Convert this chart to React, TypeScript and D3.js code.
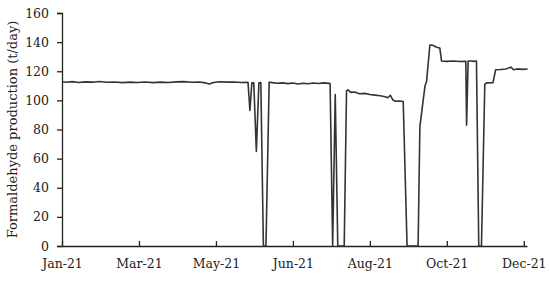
import { useRef, useEffect } from 'react';
import * as d3 from 'd3';

// day of year 2021 (0 = 1 Jan) and production in t/day
const days = [
  0, 4, 8, 13, 18, 24, 29, 35, 41, 47, 53, 59, 65, 71, 77, 83, 89, 95, 101, 107, 112, 115, 118, 123, 129, 134, 140, 145,
  146.5, 148, 149.5, 151.5, 153.5, 155, 157, 159, 161.5,
  164, 168, 172, 176, 180, 184, 188, 192, 196, 200, 204, 208,
  209, 211, 213, 215, 220, 221.8, 223, 225, 228, 232, 236, 240, 244, 248, 252, 254, 256, 258, 260, 263, 266,
  269, 277.6, 279, 281, 283, 284.2, 286.8, 289, 292, 294.5, 295.9, 300, 305, 310, 314.8, 315.4, 316.6, 319, 321, 323.1,
  324.9, 327, 329.6, 331, 336, 338, 342, 346, 350, 352, 355, 359, 363
];

const production = [
  112.8, 112.4, 112.9, 112.3, 112.7, 112.5, 113.0, 112.4, 112.6, 112.2, 112.5, 112.3, 112.6, 112.2, 112.5, 112.3, 112.7, 112.9, 112.4, 112.6, 112.0, 111.2, 112.3, 112.8, 112.5, 112.6, 112.3, 112.4,
  93, 112, 112, 65, 112, 112.3, 0, 0, 112.5,
  112.2, 111.8, 112.0, 111.5, 111.9, 111.2, 111.8, 111.4, 111.9, 111.6, 112.0, 111.7,
  111.5, 0, 104, 0, 0, 106.5, 107.2, 105.5, 105.8, 104.5, 104.8, 104.0, 103.6, 103.2, 102.5, 101.8, 103.5, 100.2, 99.4, 99.6, 99.2,
  0, 0, 82, 96, 110, 113, 138, 137.8, 136.5, 136, 127, 126.8, 127, 126.7, 126.8, 83, 127, 127, 126.8, 127,
  0, 0, 111, 112, 112.2, 121, 121.2, 121.6, 122.8, 121.0, 121.6, 121.3, 121.5
];

const tickDays = [0, 60, 120, 180, 240, 300, 360];
const tickLabels = ['Jan-21', 'Mar-21', 'May-21', 'Jun-21', 'Aug-21', 'Oct-21', 'Dec-21'];
const yTicks = [0, 20, 40, 60, 80, 100, 120, 140, 160];

function App() {
  const ref = useRef(null);

  useEffect(() => {
    const width = 550;
    const height = 281;
    const margin = { top: 13, right: 23, bottom: 35, left: 62 };
    const font = '"DejaVu Serif", serif';

    d3.select(ref.current).select('svg').remove();
    const svg = d3.select(ref.current)
      .append('svg')
      .attr('width', width)
      .attr('height', height)
      .style('position', 'absolute')
      .style('left', 0)
      .style('top', 0)
      .style('font-family', font)
      .style('font-size', '12.5px');

    const x = d3.scaleLinear().domain([0, 362.5]).range([margin.left, width - margin.right]);
    const y = d3.scaleLinear().domain([0, 160]).range([height - margin.bottom, margin.top]);

    // y axis
    const yAxis = svg.append('g')
      .attr('transform', `translate(${margin.left},0)`)
      .call(d3.axisLeft(y).tickValues(yTicks).tickSize(5).tickPadding(8));
    yAxis.select('.domain').attr('stroke', '#222').attr('stroke-width', 1.3);
    yAxis.selectAll('.tick line').attr('stroke', '#222').attr('stroke-width', 1.3);
    yAxis.selectAll('text').attr('fill', '#222').style('font-size', '12.5px').style('font-family', font);

    // x axis, ticks pointing up
    const xAxis = svg.append('g')
      .attr('transform', `translate(0,${height - margin.bottom})`)
      .call(d3.axisBottom(x).tickValues(tickDays).tickFormat((d, i) => tickLabels[i]).tickSizeInner(-5).tickSizeOuter(0).tickPadding(13));
    xAxis.select('.domain').attr('stroke', '#222').attr('stroke-width', 1.3);
    xAxis.selectAll('.tick line').attr('stroke', '#222').attr('stroke-width', 1.3);
    xAxis.selectAll('text').attr('fill', '#222').style('font-size', '12.5px').style('font-family', font);

    const line = d3.line()
      .x((d, i) => x(days[i]))
      .y(d => y(d));

    svg.append('path')
      .datum(production)
      .attr('fill', 'none')
      .attr('stroke', '#333')
      .attr('stroke-width', 1.6)
      .attr('stroke-linejoin', 'round')
      .attr('d', line);

    svg.append('text')
      .attr('transform', `translate(17,${(margin.top + height - margin.bottom) / 2}) rotate(-90)`)
      .attr('text-anchor', 'middle')
      .attr('fill', '#222')
      .style('font-size', '13px')
      .text('Formaldehyde production (t/day)');
  }, []);

  return <div ref={ref} />;
}

export default App;
